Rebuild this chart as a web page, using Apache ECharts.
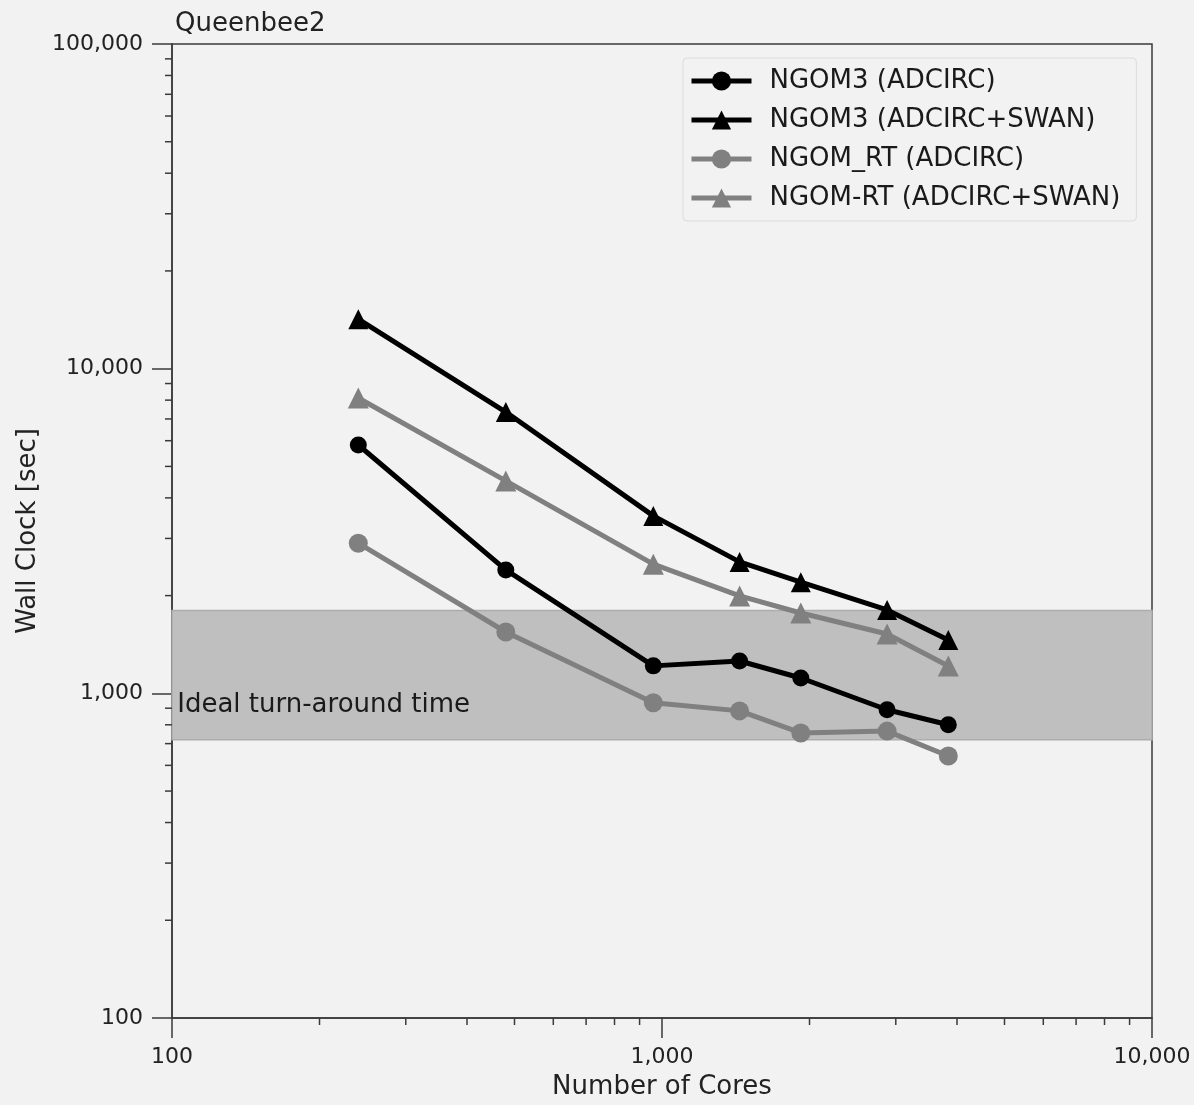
<!DOCTYPE html>
<html>
<head>
<meta charset="utf-8">
<script src="https://cdn.jsdelivr.net/npm/echarts@6/dist/echarts.min.js"></script>
<style>
  html, body { margin: 0; padding: 0; background: #f2f2f2; }
  #chart { width: 1194px; height: 1105px; }
</style>
</head>
<body>
<div id="chart"></div>
<script>
const cores = [240, 480, 960, 1440, 1920, 2880, 3840]
const ngom3Adcirc = [5820, 2400, 1215, 1258, 1115, 890, 800]
const ngom3Swan = [14200, 7350, 3520, 2540, 2200, 1806, 1460]
const ngomRtAdcirc = [2900, 1545, 935, 883, 755, 765, 641]
const ngomRtSwan = [8120, 4510, 2500, 1995, 1768, 1523, 1214]
const idealBand = [720, 1800]
const xMinorTicks = [200, 300, 400, 500, 600, 700, 800, 900, 2000, 3000, 4000, 5000, 6000, 7000, 8000, 9000]
const yMinorTicks = [200, 300, 400, 500, 600, 700, 800, 900, 2000, 3000, 4000, 5000, 6000, 7000, 8000, 9000,
  20000, 30000, 40000, 50000, 60000, 70000, 80000, 90000]

const font = 'DejaVu Sans'
const black = '#000000'
const gray = '#808080'
const axisColor = '#3a3a3a'

const fmt = (v) => Number(v).toLocaleString('en-US')
const pairs = (vals) => cores.map((c, i) => [c, vals[i]])

function lineSeries(name, vals, color, symbol, size, extra) {
  return Object.assign({
    name,
    type: 'line',
    data: pairs(vals),
    symbol,
    symbolSize: size,
    lineStyle: { width: 5, color },
    itemStyle: { color },
    z: 5,
  }, extra || {})
}

function minorTickSeries(vals, vertical) {
  return {
    type: 'custom',
    silent: true,
    clip: false,
    z: 6,
    data: vals.map((v) => (vertical ? [100, v] : [v, 100])),
    renderItem: (params, api) => {
      const p = api.coord([api.value(0), api.value(1)])
      const shape = vertical
        ? { x1: p[0] - 7, y1: p[1], x2: p[0], y2: p[1] }
        : { x1: p[0], y1: p[1], x2: p[0], y2: p[1] + 7 }
      return { type: 'line', shape, style: { stroke: axisColor, lineWidth: 1.5 } }
    },
  }
}

const chart = echarts.init(document.getElementById('chart'))

chart.setOption({
  backgroundColor: '#f2f2f2',
  animation: false,
  textStyle: { fontFamily: font },
  title: {
    text: 'Queenbee2',
    left: 170,
    top: 6,
    textStyle: { fontFamily: font, fontSize: 26, fontWeight: 'normal', color: '#222' },
  },
  grid: {
    left: 172,
    right: 42,
    top: 44,
    bottom: 87,
    show: true,
    borderColor: axisColor,
    borderWidth: 1.5,
    backgroundColor: 'transparent',
  },
  legend: {
    data: ['NGOM3 (ADCIRC)', 'NGOM3 (ADCIRC+SWAN)', 'NGOM_RT (ADCIRC)', 'NGOM-RT (ADCIRC+SWAN)'],
    orient: 'vertical',
    left: 683,
    top: 58,
    padding: [10, 16, 10, 6],
    itemWidth: 60,
    itemHeight: 24,
    itemGap: 13,
    lineStyle: { width: 5 },
    backgroundColor: '#f2f2f2',
    borderColor: '#dcdcdc',
    borderWidth: 1,
    borderRadius: 4,
    textStyle: { fontFamily: font, fontSize: 26, color: '#1a1a1a', padding: [0, 0, 0, 13] },
  },
  xAxis: {
    type: 'log',
    logBase: 10,
    min: 100,
    max: 10000,
    name: 'Number of Cores',
    nameLocation: 'middle',
    nameGap: 56,
    nameTextStyle: { fontFamily: font, fontSize: 26, color: '#222' },
    axisLine: { lineStyle: { color: axisColor, width: 1.5 } },
    axisTick: { length: 20, lineStyle: { color: axisColor, width: 1.5 } },
    axisLabel: { margin: 28, fontFamily: font, fontSize: 22, color: '#222', formatter: fmt },
    splitLine: { show: false },
  },
  yAxis: {
    type: 'log',
    logBase: 10,
    min: 100,
    max: 100000,
    name: 'Wall Clock [sec]',
    nameLocation: 'middle',
    nameGap: 125,
    nameTextStyle: { fontFamily: font, fontSize: 26, color: '#222' },
    axisLine: { lineStyle: { color: axisColor, width: 1.5 } },
    axisTick: { length: 20, lineStyle: { color: axisColor, width: 1.5 } },
    axisLabel: { margin: 29, fontFamily: font, fontSize: 22, color: '#222', formatter: fmt },
    splitLine: { show: false },
  },
  series: [
    lineSeries('NGOM3 (ADCIRC)', ngom3Adcirc, black, 'circle', 17, {
      markArea: {
        silent: true,
        itemStyle: { color: '#bfbfbf', borderColor: '#adadad', borderWidth: 1.5 },
        label: {
          show: true,
          position: [6, 96],
          verticalAlign: 'middle',
          fontFamily: font,
          fontSize: 26,
          color: '#1a1a1a',
        },
        data: [[{ yAxis: idealBand[0], name: 'Ideal turn-around time' }, { yAxis: idealBand[1] }]],
      },
    }),
    lineSeries('NGOM3 (ADCIRC+SWAN)', ngom3Swan, black, 'triangle', 20),
    lineSeries('NGOM_RT (ADCIRC)', ngomRtAdcirc, gray, 'circle', 19),
    lineSeries('NGOM-RT (ADCIRC+SWAN)', ngomRtSwan, gray, 'triangle', 21),
    minorTickSeries(xMinorTicks, false),
    minorTickSeries(yMinorTicks, true),
  ],
})

window.addEventListener('resize', () => chart.resize())
</script>
</body>
</html>
